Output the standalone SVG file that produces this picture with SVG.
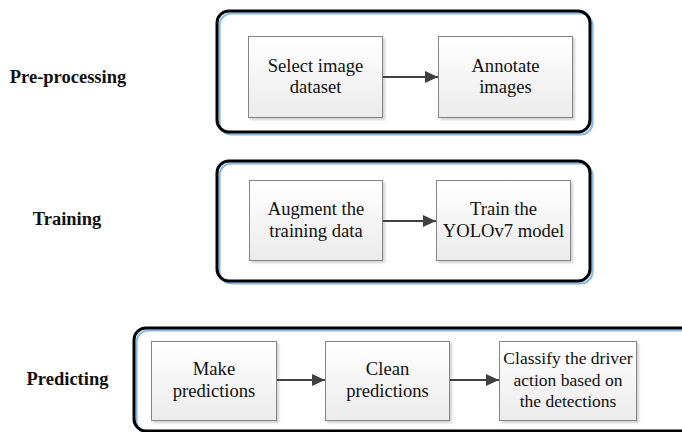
<svg xmlns="http://www.w3.org/2000/svg" width="682" height="432" viewBox="0 0 682 432">
<defs>
<linearGradient id="boxfill" x1="0" y1="0" x2="0" y2="1">
<stop offset="0" stop-color="#ffffff"/>
<stop offset="1" stop-color="#ebebeb"/>
</linearGradient>
<marker id="arrow" markerWidth="13" markerHeight="12" refX="13" refY="6" orient="auto" markerUnits="userSpaceOnUse">
<path d="M0,0 L13,6 L0,12 Z" fill="#404040"/>
</marker>
<filter id="shadow" x="-10%" y="-10%" width="130%" height="130%">
<feDropShadow dx="2" dy="2" stdDeviation="1" flood-color="#000" flood-opacity="0.18"/>
</filter>
</defs>
<style>
.outer{fill:none;stroke:#000;stroke-width:3}
.blue{fill:none;stroke:#86b8e2;stroke-width:2.2}
.box{fill:url(#boxfill);stroke:#858585;stroke-width:1;filter:url(#shadow)}
.t{font-family:"Liberation Serif","Times New Roman",serif;font-size:18.6px;fill:#111;text-anchor:middle}
.t2{font-size:17.5px}
.lab{font-family:"Liberation Serif","Times New Roman",serif;font-size:18.5px;font-weight:bold;fill:#111;text-anchor:middle}
.conn{stroke:#404040;stroke-width:2;fill:none;marker-end:url(#arrow)}
</style>
<rect width="682" height="432" fill="#fff"/>

<g id="stage-preprocessing">
<rect class="blue" x="219.5" y="13.5" width="373" height="121" rx="12"/>
<rect class="outer" x="217" y="11" width="373" height="121" rx="12"/>
<text class="lab" x="68" y="83">Pre-processing</text>
</g>
<g id="stage-training">
<rect class="blue" x="219.5" y="163.5" width="373" height="120" rx="12"/>
<rect class="outer" x="217" y="161" width="373" height="120" rx="12"/>
<text class="lab" x="67" y="225">Training</text>
</g>
<g id="stage-predicting">
<rect class="blue" x="136.5" y="330.5" width="600" height="103" rx="12"/>
<rect class="outer" x="134" y="328" width="600" height="103" rx="12"/>
<text class="lab" x="67.5" y="385">Predicting</text>
</g>

<g id="select-dataset">
<rect class="box" x="248.5" y="36.5" width="134" height="81"/>
<text class="t" x="315.5" y="71.5">Select image</text>
<text class="t" x="315.5" y="93">dataset</text>
</g>
<g id="annotate-images">
<rect class="box" x="438.5" y="36.5" width="134" height="81"/>
<text class="t" x="505.5" y="71.5">Annotate</text>
<text class="t" x="505.5" y="93">images</text>
</g>
<g id="augment-data">
<rect class="box" x="249.5" y="180.5" width="133" height="80"/>
<text class="t" x="316" y="215">Augment the</text>
<text class="t" x="316" y="236.5">training data</text>
</g>
<g id="train-model">
<rect class="box" x="436.5" y="180.5" width="134" height="80"/>
<text class="t" x="503.5" y="215">Train the</text>
<text class="t" x="503.5" y="236.5">YOLOv7 model</text>
</g>
<g id="make-predictions">
<rect class="box" x="151.5" y="341.5" width="125" height="79"/>
<text class="t" x="214" y="375">Make</text>
<text class="t" x="214" y="397">predictions</text>
</g>
<g id="clean-predictions">
<rect class="box" x="325.5" y="341.5" width="124" height="79"/>
<text class="t" x="387.5" y="375">Clean</text>
<text class="t" x="387.5" y="397">predictions</text>
</g>
<g id="classify-action">
<rect class="box" x="499.5" y="341.5" width="137" height="79"/>
<text class="t t2" x="568" y="364">Classify the driver</text>
<text class="t t2" x="568" y="385.7">action based on</text>
<text class="t t2" x="568" y="407.3">the detections</text>
</g>

<g id="connectors">
<line class="conn" x1="383" y1="77" x2="438" y2="77"/>
<line class="conn" x1="383" y1="221" x2="436" y2="221"/>
<line class="conn" x1="277" y1="380" x2="325" y2="380"/>
<line class="conn" x1="450" y1="380" x2="499" y2="380"/>
</g>
</svg>
